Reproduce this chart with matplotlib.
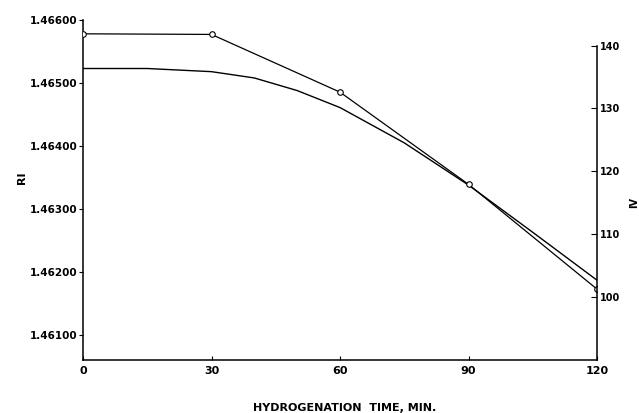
import numpy as np
import matplotlib.pyplot as plt

# data
time_min = [0, 30, 60, 90, 120]
iv_values = [141.9, 141.8, 132.6, 117.9, 101.2]          # circles, right axis

curve_time = [0, 15, 30, 40, 50, 60, 75, 90, 105, 120]
ri_values = [1.46523, 1.46523, 1.46518, 1.46508, 1.46488, 1.46461,
             1.46405, 1.46338, 1.46263, 1.46187]          # smooth curve, left axis

x_ticks = [0, 30, 60, 90, 120]
ri_ticks = [1.461, 1.462, 1.463, 1.464, 1.465, 1.466]
ri_tick_labels = ["1.46100", "1.46200", "1.46300", "1.46400", "1.46500", "1.46600"]
iv_ticks = [100, 110, 120, 130, 140]

plt.rcParams['font.family'] = ['DejaVu Sans']
plt.rcParams['font.weight'] = 'bold'

fig = plt.figure(figsize=(6.39, 4.13), dpi=100)
ax = fig.add_axes([83/639, 1 - 360/413, (597-83)/639, (360-20)/413])
ax2 = ax.twinx()

ax.plot(curve_time, ri_values, color='black', lw=1.0)
ax2.plot(time_min, iv_values, color='black', lw=0.9, marker='o',
         markersize=4, markerfacecolor='white', markeredgewidth=0.8)

ax.set_xlim(0, 120)
ax.set_ylim(1.460603, 1.46600)
ax2.set_ylim(89.9, 144.1)

ax.set_xticks(x_ticks)
ax.set_xticklabels([str(t) for t in x_ticks], fontsize=8, fontweight='bold')
ax.set_yticks(ri_ticks)
ax.set_yticklabels(ri_tick_labels, fontsize=7.5, fontweight='bold')
ax2.set_yticks(iv_ticks)
ax2.set_yticklabels([str(v) for v in iv_ticks], fontsize=7, fontweight='bold')

for a in (ax, ax2):
    a.spines['top'].set_visible(False)
    for s in a.spines.values():
        s.set_linewidth(1.1)
ax.spines['right'].set_visible(False)
ax2.spines['left'].set_visible(False)
ax2.spines['bottom'].set_visible(False)
ax2.spines['right'].set_bounds(89.9, 140)

ax.tick_params(axis='x', direction='in', length=3, width=0.8, pad=4)
ax.tick_params(axis='y', direction='out', length=3, width=0.8, pad=1)
ax2.tick_params(axis='y', direction='in', length=4, width=0.8, pad=2)

fig.text(22/639, 1 - 178/413, "RI", rotation=90, ha='center', va='center',
         fontsize=8, fontweight='bold')
fig.text(345/639, 1 - 408/413, "HYDROGENATION  TIME, MIN.", ha='center', va='center',
         fontsize=8, fontweight='bold')
fig.text(629/639, 1 - 203/413, "IV", rotation=90, ha='left', va='center',
         fontsize=7, fontweight='bold')

fig.savefig("out.png", dpi=100)
